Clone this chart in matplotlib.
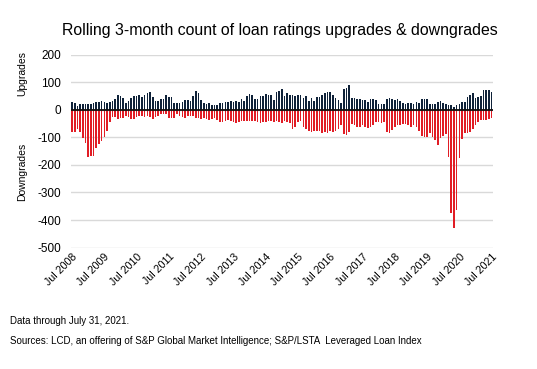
import numpy as np
import pandas as pd
import matplotlib
matplotlib.use("Agg")
import matplotlib.pyplot as plt

plt.rcParams['axes.unicode_minus'] = False

# monthly, Jul 2008 - Jul 2021 (157 months)
months = pd.date_range("2008-07-01", "2021-07-01", freq="MS")

upgrades = [
    27, 23, 12, 20, 20, 20, 20, 22, 24, 27, 29, 33, 27, 24, 27, 30, 38, 52, 49, 41,
    24, 30, 43, 49, 49, 52, 46, 54, 59, 63, 48, 30, 30, 38, 38, 52, 46, 45, 24, 23,
    23, 29, 34, 34, 33, 49, 67, 59, 34, 24, 22, 26, 16, 16, 16, 24, 24, 27, 28, 33,
    27, 33, 28, 38, 33, 49, 56, 54, 38, 38, 49, 49, 56, 52, 52, 37, 66, 67, 77, 51,
    59, 52,
    52, 49, 52, 52, 43, 49, 32, 43, 32, 46, 46, 54, 61, 66, 63, 54, 43, 37, 24, 74,
    80, 88, 43, 43, 38, 40, 34, 34, 27, 38, 38, 34, 20, 20, 20, 38, 44, 38, 37, 38,
    32, 24, 22, 24, 24, 22, 27, 24, 38, 38, 38, 22, 22, 22, 28, 30, 24, 22, 16, 16,
    10, 18, 20, 27, 27, 45, 52, 59, 44, 46, 49, 71, 73, 73, 63,
]

downgrades = [
    -82, -79, -70, -82, -102, -122, -173, -166, -166, -139, -124, -115, -100, -76, -45, -27,
    -27, -35, -29, -29, -21, -27, -33, -33, -27, -24, -24, -27, -21, -27, -33, -27,
    -21, -17, -17, -17, -29, -29, -29, -15, -21, -27, -29, -21, -21, -24, -29, -29,
    -33, -29, -33, -37, -33, -29, -37, -45, -45, -39, -37, -39, -45, -49, -45, -41,
    -39, -41, -39, -41, -41, -45, -49, -45, -45, -41, -39, -45, -41, -45, -49, -41,
    -45, -49,
    -70, -61, -45, -41, -63, -70, -78, -82, -76, -78, -76, -85, -82, -85, -76, -79,
    -76, -70, -57, -88, -90, -82, -51, -54, -63, -63, -57, -63, -66, -61, -54, -45,
    -45, -49, -45, -82, -85, -73, -61, -57, -54, -51, -51, -54, -61, -57, -63, -76,
    -94, -100, -98, -85, -98, -110, -127, -102, -94, -88,
    -173, -375, -430, -365, -176, -106, -85, -85, -82, -70, -57, -45, -37, -37, -37,
    -33, -29,
]

tick_labels = ["Jul %d" % y for y in range(2008, 2022)]

up_color = "#0f2239"
down_color = "#e11d25"

fig = plt.figure(figsize=(5.37, 3.69), dpi=100)
ax = fig.add_axes([0.1317, 0.329, 0.7863, 0.523])

x = np.arange(len(months))
ax.bar(x, upgrades, width=0.6, color=up_color, zorder=3)
ax.bar(x, downgrades, width=0.6, color=down_color, zorder=3)
ax.axhline(0, color="#111111", linewidth=1.3, zorder=4)

ax.set_xlim(-0.5, len(months) - 0.5)
ax.set_ylim(-500, 200)
ax.set_yticks(range(-500, 201, 100))
ax.yaxis.grid(True, color="#d9d9d9", linewidth=1.0, zorder=0)
ax.tick_params(axis="y", length=0, labelsize=8.5, pad=7)

tick_pos = [i for i, m in enumerate(months) if m.month == 7]
ax.set_xticks(tick_pos)
ax.set_xticklabels(tick_labels, rotation=45, ha="right", rotation_mode="anchor", fontsize=7.7)
ax.tick_params(axis="x", length=0, pad=3)

for s in ax.spines.values():
    s.set_visible(False)

fig.text(0.521, 0.918, "Rolling 3-month count of loan ratings upgrades & downgrades",
         ha="center", va="center", fontsize=11.4)
fig.text(0.041, 0.80, "Upgrades", rotation=90, ha="center", va="center", fontsize=7.5)
fig.text(0.041, 0.533, "Downgrades", rotation=90, ha="center", va="center", fontsize=7.5)

fig.text(0.019, 0.13, "Data through July 31, 2021.", ha="left", va="center", fontsize=7)
fig.text(0.019, 0.076, "Sources: LCD, an offering of S&P Global Market Intelligence; S&P/LSTA  Leveraged Loan Index",
         ha="left", va="center", fontsize=7)

for t in fig.findobj(matplotlib.text.Text):
    t.set_fontfamily(["Liberation Sans", "DejaVu Sans"])

fig.savefig("out.png", dpi=100)
